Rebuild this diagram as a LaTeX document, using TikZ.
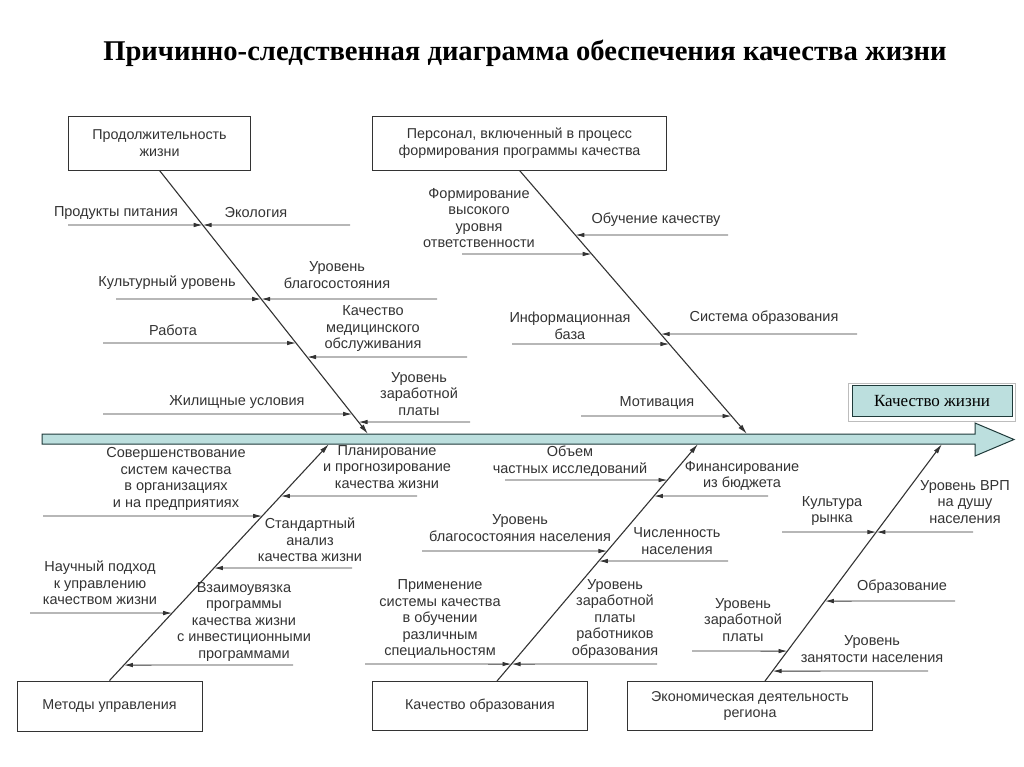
\documentclass[tikz,border=0pt]{standalone}
\usepackage{fontspec}
\setmainfont{Liberation Sans}
\newfontfamily\zagfont{Liberation Serif}
\usetikzlibrary{arrows.meta,calc}
\definecolor{linia}{HTML}{333333}
\definecolor{tekst}{HTML}{333333}
\definecolor{biryuza}{HTML}{BCDFDE}
\definecolor{kontur}{HTML}{1F3A3A}
\definecolor{ten}{HTML}{BDBDBD}

\begin{document}
\begin{tikzpicture}[x=1pt,y=-1pt,
    blok/.style={draw=linia,line width=0.9pt,align=center,inner sep=0pt,
                 font=\fontsize{14.3}{16.5}\selectfont\color{tekst}},
    metka/.style={align=center,inner sep=0pt,
                  font=\fontsize{14.5}{16.5}\selectfont\color{tekst}},
    kost/.style={draw=linia,line width=1.1pt,-{Latex[length=10pt,width=5pt]}},
    vetka/.style={draw=linia,line width=0.9pt,-{Latex[length=9pt,width=4.5pt]}}]
  \useasboundingbox (0,0) rectangle (1024,767);
  \node[font=\zagfont\bfseries\fontsize{28.6}{32}\selectfont] (zag) at (525,53)
    {Причинно-следственная диаграмма обеспечения качества жизни};

  % хребет со стрелкой
  \draw[kontur,fill=biryuza,line width=1pt] (42,434) -- (975,434) -- (975,423)
    -- (1014,439.5) -- (975,456) -- (975,444) -- (42,444) -- cycle;
  \draw[ten,line width=1pt] (848,383) rectangle (1015,421);
  \node[draw=kontur,fill=biryuza,line width=1pt,minimum width=160pt,
        minimum height=31pt,font=\zagfont\fontsize{17}{20}\selectfont] (kj)
    at (932,401) {Качество жизни};

  % блоки причин
  \node[blok,minimum width=182pt,minimum height=54pt] (pzh) at (159.5,143)
    {Продолжительность\\жизни};
  \node[blok,minimum width=294pt,minimum height=54pt] (pers) at (519.5,143)
    {Персонал, включенный в процесс\\формирования программы качества};
  \node[blok,minimum width=185pt,minimum height=50pt] (mu) at (109.5,706)
    {Методы управления};
  \node[blok,minimum width=215pt,minimum height=49pt] (ko) at (480,706)
    {Качество образования};
  \node[blok,minimum width=245pt,minimum height=49pt] (ed) at (750,706)
    {Экономическая деятельность\\региона};

  % кости
  \coordinate (tl1) at (pzh.south);          \coordinate (tl2) at (368,434);
  \coordinate (tr1) at (pers.south);         \coordinate (tr2) at (747,434);
  \coordinate (bl1) at (mu.north);           \coordinate (bl2) at (329,444);
  \coordinate (bm1) at ([xshift=17pt]ko.north); \coordinate (bm2) at (698,444);
  \coordinate (br1) at ([xshift=15pt]ed.north); \coordinate (br2) at (942,444);
  \foreach \b in {tl,tr,bl,bm,br}
    \draw[kost] (\b1) -- (\b2);

  % ветви: кость / свободный конец / метка
  \foreach \b/\fx/\fy/\lx/\ly/\txt [count=\i] in {
      tl/68/225/116/213/{Продукты питания},
      tl/350/225/256/213/{Экология},
      tl/116/299/167/283/{Культурный уровень},
      tl/437/299/337/275/{Уровень\\благосостояния},
      tl/103/343/173/330/{Работа},
      tl/467/357/373/329/{Качество\\медицинского\\обслуживания},
      tl/103/414/237/402/{Жилищные условия},
      tl/470/422/419/394/{Уровень\\заработной\\платы},
      tr/462/254/479/218/{Формирование\\высокого\\уровня\\ответственности},
      tr/728/235/656/220/{Обучение качеству},
      tr/512/344/570/326/{Информационная\\база},
      tr/857/334/764/318/{Система образования},
      tr/581/416/657/403/{Мотивация},
      bl/43/516/176/479/{Совершенствование\\систем качества\\в организациях\\и на предприятиях},
      bl/417/496/387/467/{Планирование\\и прогнозирование\\качества жизни},
      bl/352/568/310/540/{Стандартный\\анализ\\качества жизни},
      bl/30/613/100/583/{Научный подход\\к управлению\\качеством жизни},
      bl/293/665/244/622/{Взаимоувязка\\программы\\качества жизни\\с инвестиционными\\программами},
      bm/505/480/570/461/{Объем\\частных исследований},
      bm/768/496/742/476/{Финансирование\\из бюджета},
      bm/422/551/520/528/{Уровень\\благосостояния населения},
      bm/728/561/677/541/{Численность\\населения},
      bm/365/664/440/619/{Применение\\системы качества\\в обучении\\различным\\специальностям},
      bm/657/664/615/619/{Уровень\\заработной\\платы\\работников\\образования},
      br/782/532/832/511/{Культура\\рынка},
      br/973/532/965/502/{Уровень ВРП\\на душу\\населения},
      br/955/601/902/587/{Образование},
      br/692/651/743/620/{Уровень\\заработной\\платы},
      br/928/671/872/649/{Уровень\\занятости населения}}{
    \coordinate (v\i) at (\fx,\fy);
    \draw[vetka] (v\i) -- (intersection cs: first line={(\b1)--(\b2)},
                                           second line={(0,\fy)--(1,\fy)});
    \node[metka] (m\i) at (\lx,\ly) {\txt};
  }
\end{tikzpicture}
\end{document}
